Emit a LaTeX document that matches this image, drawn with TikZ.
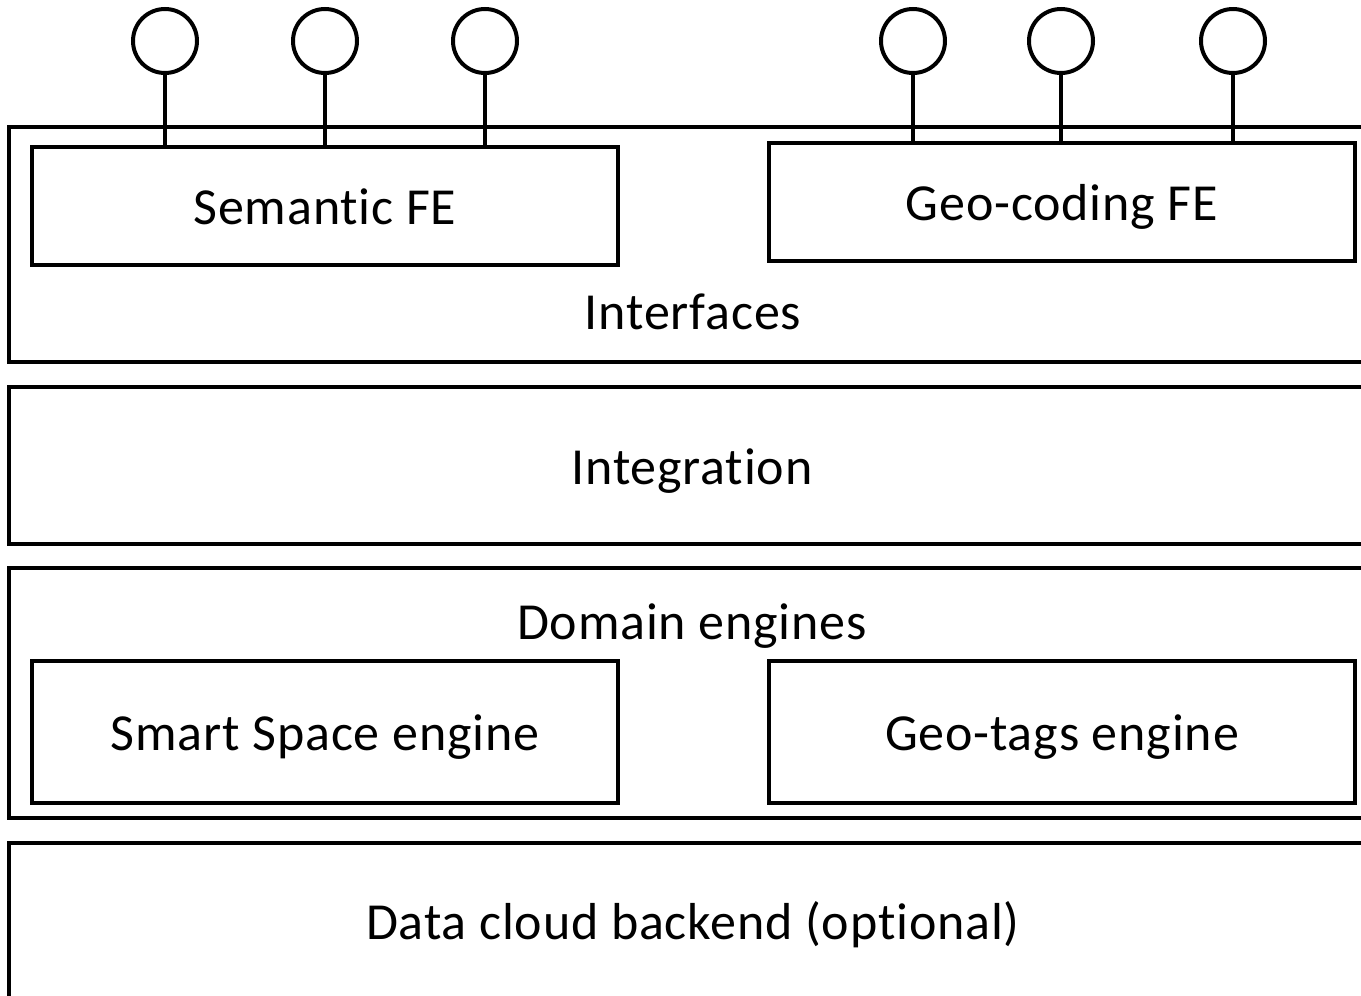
\documentclass[tikz,border=0pt]{standalone}
\usepackage{fontspec}
\setmainfont{Carlito}[Ligatures={NoCommon}, LetterSpace=1.6]
\begin{document}
\begin{tikzpicture}[x=0.5pt,y=-0.5pt,line width=2pt,font=\fontsize{26}{30}\selectfont]
    \tikzset{layer/.style={draw, minimum width=685.5pt},
             caption/.style={text height=22.5pt, text depth=4pt},
             box/.style={draw, caption, minimum width=293pt, minimum height=59pt, align=center},
             engine/.style={box, minimum height=71pt},
             port/.style={draw, circle, minimum size=32pt, inner sep=0pt}}
    \clip (0,0) rectangle (1361,996);
    % layers
    \node[layer, minimum height=117.5pt] (intf) at (694.5,244.5) {};
    \node[layer, minimum height=78.5pt] (integ) at (694.5,465.5) {};
    \node[layer, minimum height=125pt] (dom) at (694.5,693) {};
    \node[layer, minimum height=83.5pt] (data) at (694.5,926.5) {};
    \node[caption] (intftxt) at (693,311) {Interfaces};
    \node[caption] (integtxt) at (692,466) {Integration};
    \node[caption] (domtxt) at (692,621) {Domain engines};
    \node[caption] (datatxt) at (693,921) {Data cloud backend (optional)};
    % front ends and engines
    \node[box, fill=white] (sem) at (325,206) {Semantic FE};
    \node[box, fill=white] (geo) at (1062,202) {Geo-coding FE};
    \node[engine] (smart) at (325,732) {Smart Space engine};
    \node[engine] (tags) at (1062,732) {Geo-tags engine};
    % ports
    \foreach \i/\x in {1/165,2/325,3/485} {
        \node[port] (s\i) at (\x,41) {};
        \draw (s\i) -- (s\i |- sem.north);
    }
    \foreach \i/\x in {1/913,2/1061,3/1233} {
        \node[port] (g\i) at (\x,41) {};
        \draw (g\i) -- (g\i |- geo.north);
    }
\end{tikzpicture}
\end{document}
